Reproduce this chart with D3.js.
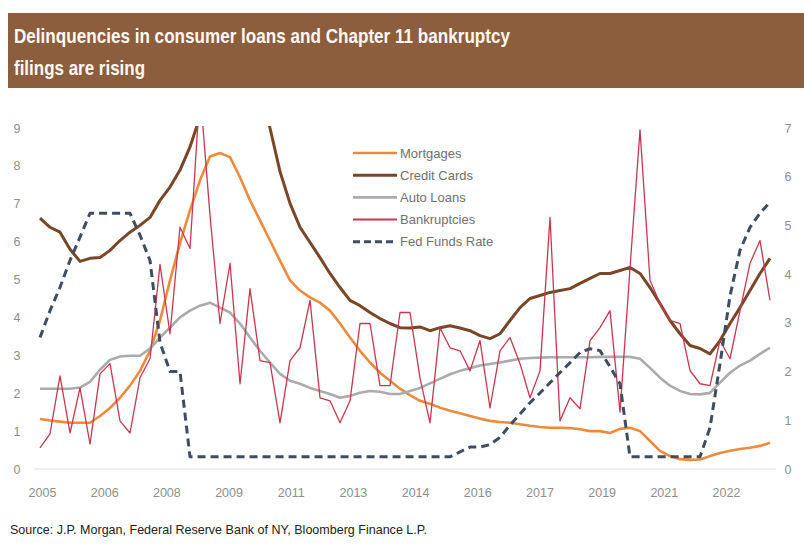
<!DOCTYPE html>
<html>
<head>
<meta charset="utf-8">
<script src="https://cdn.jsdelivr.net/npm/d3@7"></script>
<style>
  body { margin: 0; background: #ffffff; }
  svg { display: block; }
  .tick text { font-family: "Liberation Sans", Arial, sans-serif; }
</style>
</head>
<body>
<svg id="chart" width="804" height="552"></svg>
<script>
// Quarterly observations, 2005 Q2 through 2023 Q3
const quarters = d3.range(74).map(i => 2005.25 + i / 4);

// Delinquency rates (left axis, %)
const mortgages = [1.32,1.28,1.25,1.22,1.22,1.22,1.40,1.61,1.88,2.20,2.59,3.12,3.92,4.98,5.96,6.83,7.62,8.25,8.34,8.23,
  7.70,7.09,6.56,6.03,5.50,4.98,4.71,4.53,4.39,4.18,3.84,3.47,3.12,2.81,2.54,2.33,2.12,1.95,1.80,1.72,
  1.62,1.54,1.47,1.40,1.33,1.27,1.24,1.22,1.18,1.14,1.11,1.09,1.09,1.08,1.05,1.00,1.00,0.95,1.06,1.09,
  1.00,0.74,0.48,0.34,0.26,0.24,0.25,0.34,0.42,0.48,0.53,0.56,0.61,0.69];

const creditCards = [6.62,6.38,6.25,5.80,5.48,5.56,5.58,5.77,6.03,6.25,6.43,6.64,7.09,7.44,7.89,8.50,9.30,10.6,11.8,12.6,
  12.4,11.5,10.3,9.00,7.85,7.01,6.38,5.98,5.58,5.16,4.79,4.45,4.31,4.13,3.97,3.84,3.73,3.72,3.75,3.65,
  3.73,3.78,3.72,3.65,3.52,3.44,3.57,3.92,4.26,4.50,4.58,4.66,4.71,4.76,4.90,5.03,5.16,5.16,5.24,5.32,
  5.16,4.79,4.37,3.92,3.57,3.26,3.18,3.04,3.39,3.84,4.26,4.71,5.16,5.56];

const autoLoans = [2.12,2.12,2.12,2.12,2.15,2.30,2.62,2.88,2.97,2.99,2.99,3.18,3.47,3.73,4.00,4.18,4.31,4.39,4.26,4.13,
  3.84,3.47,3.12,2.81,2.51,2.33,2.25,2.14,2.06,1.98,1.88,1.93,2.01,2.06,2.04,1.98,1.98,2.06,2.14,2.26,
  2.38,2.50,2.59,2.66,2.73,2.77,2.81,2.86,2.91,2.93,2.94,2.95,2.95,2.95,2.95,2.95,2.96,2.96,2.96,2.96,
  2.91,2.67,2.41,2.20,2.06,1.98,1.97,2.01,2.28,2.54,2.73,2.86,3.04,3.20];

const bankruptcies = [0.56,0.93,2.46,0.95,2.14,0.66,2.51,2.78,1.27,0.95,2.41,2.91,5.40,3.57,6.38,5.82,10.0,6.70,3.84,5.43,
  2.25,4.76,2.86,2.81,1.22,2.86,3.20,4.45,1.88,1.80,1.22,1.80,3.84,3.84,2.20,2.20,4.13,4.13,2.40,1.22,
  3.73,3.20,3.12,2.59,3.39,1.61,3.12,3.47,2.78,1.88,2.59,6.64,1.27,1.88,1.59,3.39,3.73,4.18,1.50,5.30,
  8.95,4.98,4.37,3.92,3.84,2.60,2.25,2.20,3.39,2.91,4.18,5.43,6.03,4.45];

// Fed Funds target rate (right axis, %)
const fedFunds = [2.70,3.25,3.73,4.28,4.76,5.25,5.25,5.25,5.25,5.25,4.80,4.28,2.60,2.00,2.00,0.25,0.25,0.25,0.25,0.25,
  0.25,0.25,0.25,0.25,0.25,0.25,0.25,0.25,0.25,0.25,0.25,0.25,0.25,0.25,0.25,0.25,0.25,0.25,0.25,0.25,
  0.25,0.25,0.35,0.45,0.45,0.50,0.65,0.90,1.13,1.36,1.56,1.77,1.98,2.18,2.39,2.47,2.43,2.10,1.75,0.25,
  0.25,0.25,0.25,0.25,0.25,0.25,0.25,0.85,2.16,3.55,4.49,4.96,5.25,5.48];

const xTickLabels = ["2005","2006","2008","2009","2011","2013","2014","2016","2017","2019","2021","2022"];
const leftTicks = [0,1,2,3,4,5,6,7,8,9];
const rightTicks = [0,1,2,3,4,5,6,7];

const titleLines = ["Delinquencies in consumer loans and Chapter 11 bankruptcy", "filings are rising"];
const sourceText = "Source: J.P. Morgan, Federal Reserve Bank of NY, Bloomberg Finance L.P.";

const series = [
  { name: "Mortgages",      values: mortgages,    axis: "left",  color: "#ED8A3C", width: 2.6 },
  { name: "Credit Cards",   values: creditCards,  axis: "left",  color: "#7A4628", width: 3 },
  { name: "Auto Loans",     values: autoLoans,    axis: "left",  color: "#ABABAB", width: 2.6 },
  { name: "Bankruptcies",   values: bankruptcies, axis: "left",  color: "#C8374E", width: 1.3 },
  { name: "Fed Funds Rate", values: fedFunds,     axis: "right", color: "#3F4D5E", width: 3, dash: "8,5" }
];

const svg = d3.select("#chart");
const W = 804;

// Title band
svg.append("rect").attr("x", 8).attr("y", 13).attr("width", W - 8).attr("height", 75)
  .attr("fill", "#8D5E3D");
const titleWidths = [496, 131];
titleLines.forEach((t, i) => {
  svg.append("text")
    .attr("x", 14).attr("y", 43 + i * 32)
    .attr("font-family", "'Liberation Sans', Arial, sans-serif")
    .attr("font-weight", "bold").attr("font-size", 20.5)
    .attr("fill", "#FFF9F2")
    .attr("textLength", titleWidths[i]).attr("lengthAdjust", "spacingAndGlyphs")
    .text(t);
});

// Scales
const x = d3.scaleLinear().domain([quarters[0], quarters[quarters.length - 1]]).range([40, 770]);
const yL = d3.scaleLinear().domain([0, 9]).range([469, 128]);
const yR = d3.scaleLinear().domain([0, 7]).range([469, 128]);
const xLab = d3.scalePoint().domain(xTickLabels).range([42, 726]);

// Baseline
svg.append("line").attr("x1", 34).attr("x2", 776).attr("y1", yL(0)).attr("y2", yL(0))
  .attr("stroke", "#E2E2E2").attr("stroke-width", 1.2);

// Axes
const styleAxis = g => {
  g.select(".domain").remove();
  g.selectAll("text").attr("fill", "#8E8E8E").attr("font-size", 12.5);
};
svg.append("g").attr("transform", "translate(22,0)")
  .call(d3.axisLeft(yL).tickValues(leftTicks).tickSize(0).tickPadding(0).tickFormat(d3.format("d")))
  .call(styleAxis)
  .selectAll("text").attr("text-anchor", "middle").attr("x", -5);
svg.append("g").attr("transform", "translate(783,0)")
  .call(d3.axisRight(yR).tickValues(rightTicks).tickSize(0).tickPadding(0).tickFormat(d3.format("d")))
  .call(styleAxis)
  .selectAll("text").attr("text-anchor", "middle").attr("x", 5);
svg.append("g").attr("transform", `translate(0,${yL(0)})`)
  .call(d3.axisBottom(xLab).tickSize(0).tickPadding(19))
  .call(styleAxis);

// Plot clip
svg.append("defs").append("clipPath").attr("id", "plotClip")
  .append("rect").attr("x", 30).attr("y", 126).attr("width", 750).attr("height", 346);

const plot = svg.append("g").attr("clip-path", "url(#plotClip)");
series.forEach(s => {
  const y = s.axis === "left" ? yL : yR;
  const line = d3.line().x((d, i) => x(quarters[i])).y(d => y(d));
  plot.append("path")
    .datum(s.values)
    .attr("d", line)
    .attr("fill", "none")
    .attr("stroke", s.color)
    .attr("stroke-width", s.width)
    .attr("stroke-linejoin", "round")
    .attr("stroke-dasharray", s.dash || null);
});

// Legend
const legend = svg.append("g").attr("transform", "translate(353,153)");
series.forEach((s, i) => {
  const row = legend.append("g").attr("transform", `translate(0,${i * 22.2})`);
  row.append("line").attr("x1", 0).attr("x2", 44).attr("y1", 0).attr("y2", 0)
    .attr("stroke", s.color).attr("stroke-width", s.width === 1.3 ? 2 : s.width)
    .attr("stroke-dasharray", s.dash ? "7,4" : null);
  row.append("text").attr("x", 47).attr("y", 4.5)
    .attr("font-family", "'Liberation Sans', Arial, sans-serif")
    .attr("font-size", 13).attr("fill", "#707070")
    .text(s.name);
});

// Source note
svg.append("text").attr("x", 10).attr("y", 534)
  .attr("font-family", "'Liberation Sans', Arial, sans-serif")
  .attr("font-size", 13).attr("fill", "#222222")
  .attr("textLength", 417).attr("lengthAdjust", "spacingAndGlyphs")
  .text(sourceText);
</script>
</body>
</html>
